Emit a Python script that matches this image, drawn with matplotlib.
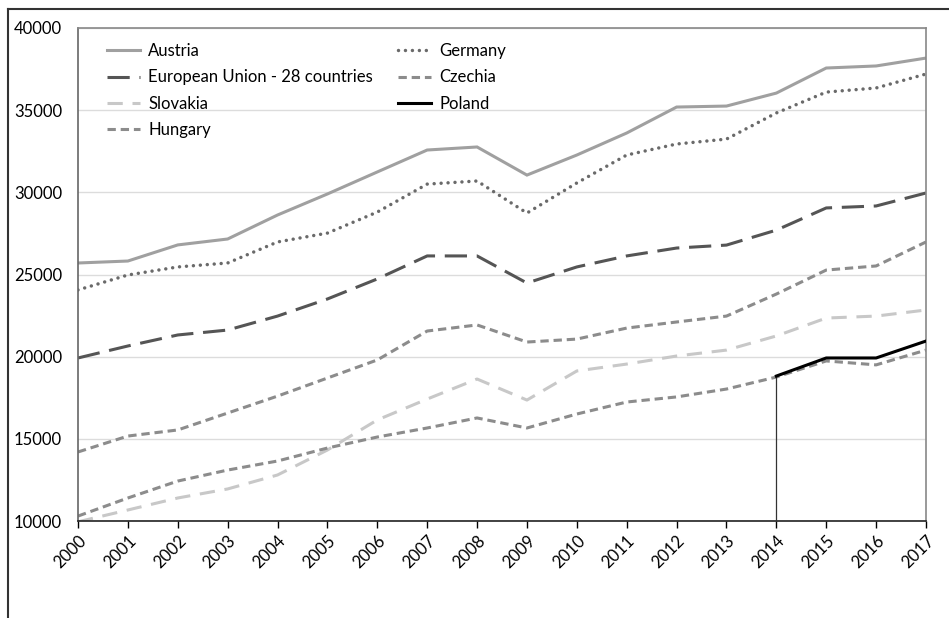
import matplotlib
matplotlib.use("Agg")
import matplotlib.pyplot as plt
from matplotlib.lines import Line2D

plt.rcParams['font.family'] = ['Lato', 'DejaVu Sans']
plt.rcParams['lines.scale_dashes'] = False

years = list(range(2000, 2018))

austria = [25700, 25820, 26800, 27160, 28620, 29900, 31240, 32575, 32760, 31050,
           32270, 33610, 35190, 35250, 36040, 37565, 37690, 38170]
germany = [24060, 24970, 25460, 25700, 26980, 27520, 28800, 30500, 30690, 28740,
           30570, 32270, 32940, 33240, 34830, 36100, 36350, 37200]
eu28 = [19920, 20650, 21320, 21620, 22470, 23510, 24730, 26130, 26130, 24480,
        25460, 26130, 26610, 26790, 27700, 29050, 29170, 29960]
czechia = [14200, 15170, 15540, 16570, 17600, 18700, 19800, 21560, 21930, 20890,
           21070, 21740, 22110, 22470, 23810, 25270, 25520, 26980]
slovakia = [9950, 10670, 11400, 11950, 12800, 14320, 16150, 17420, 18640, 17360,
            19130, 19550, 20040, 20400, 21260, 22350, 22470, 22840]
hungary = [10300, 11400, 12430, 13100, 13650, 14440, 15110, 15660, 16270, 15660,
           16510, 17240, 17550, 18030, 18760, 19740, 19500, 20400]
poland_years = [2014, 2015, 2016, 2017]
poland = [18820, 19920, 19920, 20950]

y_min, y_max = 10000, 40000
y_ticks = [10000, 15000, 20000, 25000, 30000, 35000, 40000]

fig = plt.figure(figsize=(9.49, 6.18), dpi=100)
ax = fig.add_axes([78 / 949, 1 - 521 / 618, (926 - 78) / 949, (521 - 28) / 618])

lw = 2.2
h_aut, = ax.plot(years, austria, color='#a0a0a0', lw=lw, solid_joinstyle='miter',
                 label='Austria')
h_deu, = ax.plot(years, germany, color='#6a6a6a', lw=lw + 0.3, linestyle=(0, (0.01, 5.0)),
                 dash_capstyle='round', label='Germany')
h_eu, = ax.plot(years, eu28, color='#555555', lw=lw, linestyle=(0, (16, 7)),
                label='European Union - 28 countries')
h_cze, = ax.plot(years, czechia, color='#8c8c8c', lw=lw, linestyle=(0, (6, 3.5)),
                 label='Czechia')
h_svk, = ax.plot(years, slovakia, color='#c8c8c8', lw=lw, linestyle=(0, (11, 7)),
                 label='Slovakia')
h_hun, = ax.plot(years, hungary, color='#8c8c8c', lw=lw, linestyle=(0, (6, 3.5)),
                 label='Hungary')
ax.vlines(poland_years[0], y_min, poland[0], color='#333333', lw=0.9, zorder=3)
h_pol, = ax.plot(poland_years, poland, color='#000000', lw=lw, label='Poland', zorder=4)

ax.set_xlim(years[0], years[-1])
ax.set_ylim(y_min, y_max)
ax.set_yticks(y_ticks)
ax.set_yticklabels([str(v) for v in y_ticks], fontsize=12)
ax.set_xticks(years)
ax.set_xticklabels([str(y) for y in years], rotation=45, ha='right',
                   rotation_mode='anchor', fontsize=12)
ax.tick_params(axis='y', length=0, pad=11.5)
ax.tick_params(axis='x', length=5, width=1, direction='out', pad=3)

ax.grid(axis='y', color='#dcdcdc', lw=1)
ax.set_axisbelow(True)
for side in ('top', 'right'):
    ax.spines[side].set_color('#888888')
    ax.spines[side].set_linewidth(1.2)
ax.spines['left'].set_color('#666666')
ax.spines['left'].set_linewidth(1.2)
ax.spines['bottom'].set_color('#222222')
ax.spines['bottom'].set_linewidth(1.2)

handles = [h_aut, h_eu, h_svk, h_hun, h_deu, h_cze, h_pol]
leg = ax.legend(handles=handles, labels=[h.get_label() for h in handles],
                ncol=2, loc='upper left', bbox_to_anchor=(29 / 848, 0.9695),
                frameon=False, fontsize=12, handlelength=2.0, handletextpad=0.48,
                columnspacing=1.5, labelspacing=0.62, borderpad=0, borderaxespad=0)

# outer frame around the chart
W, H = 949, 618
fig.add_artist(Line2D([8 / W, 1.0], [1 - 9 / H, 1 - 9 / H], color='#333333', lw=1.5,
                      transform=fig.transFigure))
fig.add_artist(Line2D([8 / W, 8 / W], [0.0, 1 - 9 / H], color='#333333', lw=1.5,
                      transform=fig.transFigure))

fig.savefig('out.png', dpi=100)
